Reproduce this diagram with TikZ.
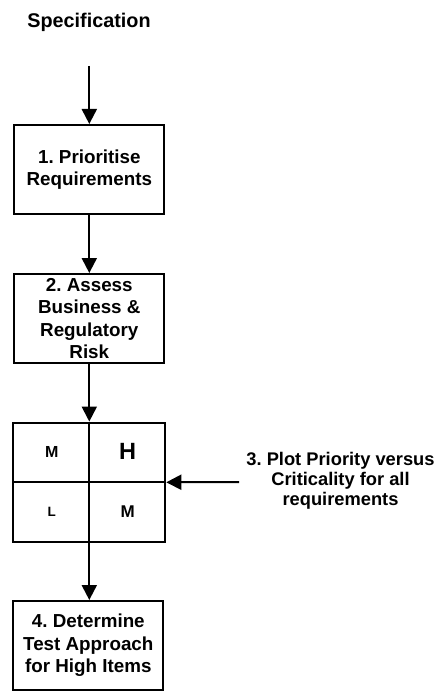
\documentclass[tikz,border=0pt]{standalone}
\usepackage{fontspec}
\setmainfont{Liberation Sans}
\usetikzlibrary{arrows.meta}
\frenchspacing
\begin{document}
\begin{tikzpicture}[x=1bp,y=-1bp,
  line width=2bp,
  arr/.style={-{Triangle[length=15bp,width=15bp]}},
  stepbox/.style={draw, rectangle, minimum width=150bp, minimum height=89bp, inner sep=0pt,
    align=center, font=\fontsize{18.8bp}{22.5bp}\selectfont\bfseries},
  celltxt/.style={inner sep=0pt, font=\bfseries}]
\useasboundingbox (0,0) rectangle (437,692);
\clip (0,0) rectangle (437,692);
\node[font=\fontsize{19.8bp}{23bp}\selectfont\bfseries] (spec) at (89,22) {Specification};
\coordinate (start) at (89.3,66);
\node[stepbox] (b1) at (89.3,169.5) {1. Prioritise\\Requirements};
\node[stepbox] (b2) at (89.3,318.5) {2. Assess\\Business \&\\Regulatory\\Risk};
\node[draw, rectangle, minimum width=152bp, minimum height=119.5bp, inner sep=0pt] (grid) at (89.3,482.3) {};
\draw (grid.west) -- (grid.east);
\draw (grid.north) -- (grid.south);
\node[celltxt, font=\fontsize{16bp}{18bp}\selectfont\bfseries] (m1) at (51.7,451.7) {M};
\node[celltxt, font=\fontsize{23.5bp}{26bp}\selectfont\bfseries] (h) at (127.7,451.7) {H};
\node[celltxt, font=\fontsize{13.5bp}{16bp}\selectfont\bfseries] (l) at (51.7,512) {L};
\node[celltxt, font=\fontsize{17bp}{19bp}\selectfont\bfseries] (m2) at (127.7,512) {M};
\node[align=center, inner sep=0pt, font=\fontsize{18.3bp}{20bp}\selectfont\bfseries] (l3) at (340.5,480.7)
  {3. Plot Priority versus\\Criticality for all\\requirements};
\coordinate (l3in) at (239,482);
\node[stepbox] (b4) at (88.3,645.5) {4. Determine\\Test Approach\\for High Items};
\draw[arr] (start) -- (b1.north);
\draw[arr] (b1.south) -- (b2.north);
\draw[arr] (b2.south) -- (grid.north);
\draw[arr] (grid.south) -- (grid.south |- b4.north);
\draw[arr] (l3in) -- (grid.east);
\end{tikzpicture}
\end{document}
